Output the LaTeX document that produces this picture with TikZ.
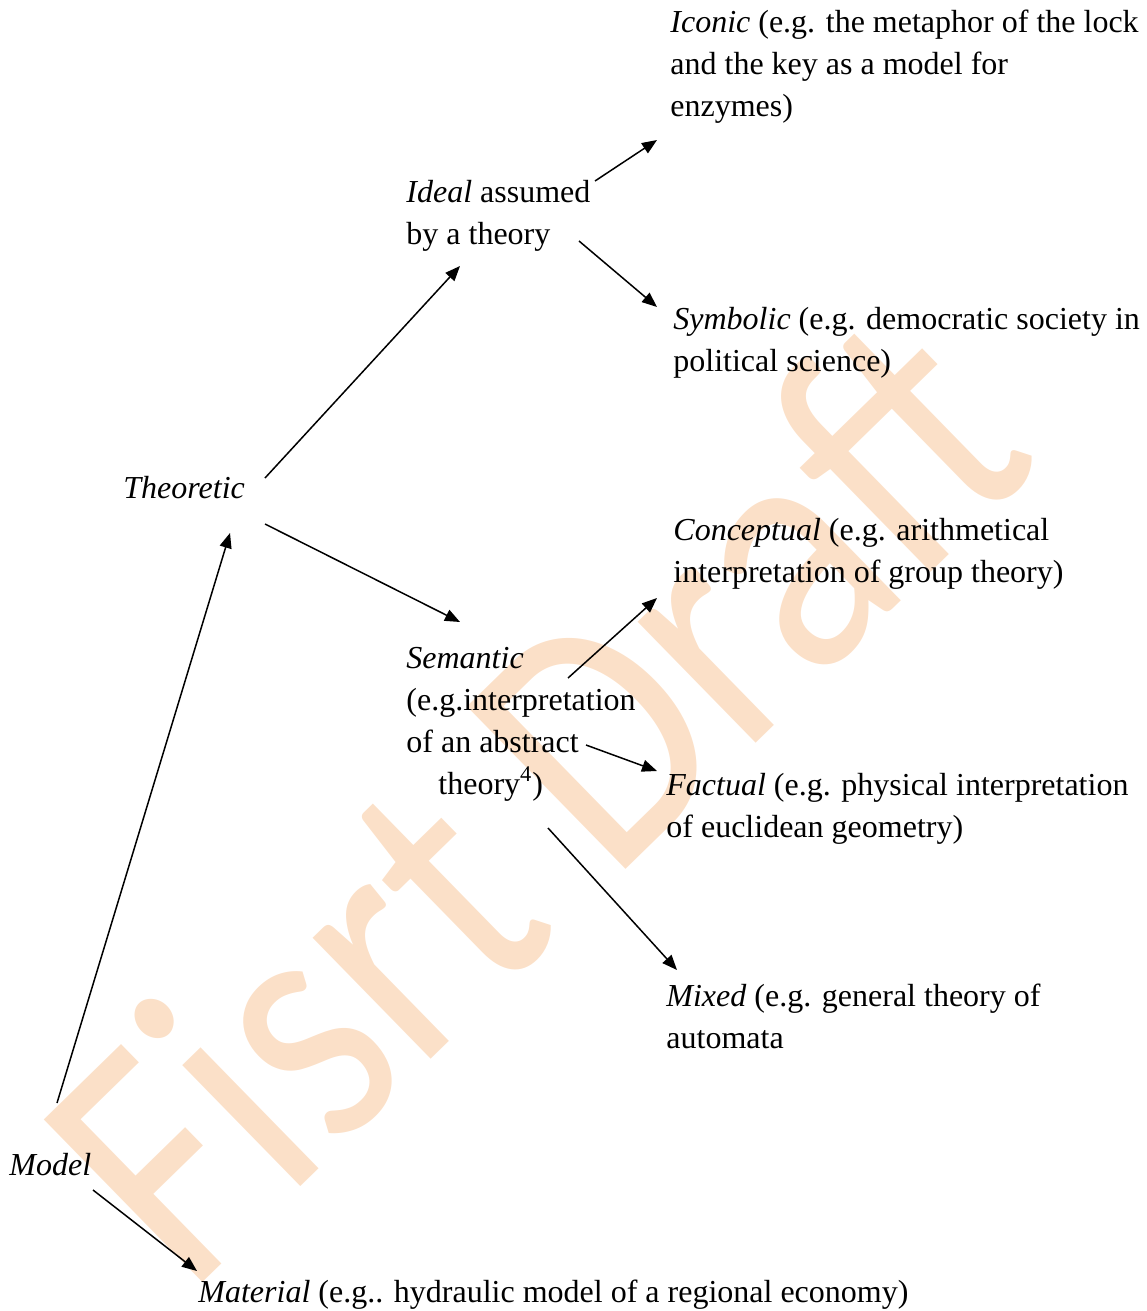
\documentclass[tikz,border=0pt]{standalone}
\usepackage{fontspec}
\setmainfont{Liberation Serif}
\newfontfamily\wmfont{Carlito}
\usetikzlibrary{arrows.meta}
\definecolor{wmorange}{RGB}{251, 224, 200}

\begin{document}
\begin{tikzpicture}[x=0.5pt, y=-0.5pt,
  lbl/.style={anchor=base west, inner sep=0pt, align=left, font=\fontsize{16}{21}\selectfont},
  arr/.style={-{Triangle[length=7.5pt, width=6pt]}, line width=0.75pt},
  watermark/.style={anchor=base west, inner sep=0pt, text=wmorange, transform shape, font=\wmfont\fontsize{177}{177}\selectfont}
]
  \useasboundingbox (0,0) rectangle (1146,1311);

  % watermark behind everything
  \begin{scope}[shift={(188,1297)}, rotate=44.3, xscale=0.84]
    \node[watermark] (wm) at (0,0) {Fisrt Draft};
  \end{scope}

  % labels (base = baseline of the last line)
  \node[lbl] (model) at (9,1175) {\textit{Model}};
  \node[lbl] (theoretic) at (123,498) {\textit{Theoretic}};
  \node[lbl] (material) at (198,1302) {\textit{Material} (e.g.. hydraulic model of a regional economy)};
  \node[lbl] (ideal) at (406,244) {\textit{Ideal} assumed\\by a theory};
  \node[lbl] (semantic) at (406,794) {\textit{Semantic}\\(e.g.interpretation\\of an abstract\\\hspace*{1em}theory\textsuperscript{4})};
  \node[lbl] (iconic) at (670,117) {\textit{Iconic} (e.g. the metaphor of the lock\\and the key as a model for\\enzymes)};
  \node[lbl] (symbolic) at (673,371) {\textit{Symbolic} (e.g. democratic society in\\political science)};
  \node[lbl] (conceptual) at (673,582) {\textit{Conceptual} (e.g. arithmetical\\interpretation of group theory)};
  \node[lbl] (factual) at (666,837) {\textit{Factual} (e.g. physical interpretation\\of euclidean geometry)};
  \node[lbl] (mixed) at (666,1048) {\textit{Mixed} (e.g. general theory of\\automata};

  % arrow ends
  \coordinate (m-up) at (57,1103);
  \coordinate (t-in) at (230,533);
  \coordinate (t-up) at (265,478);
  \coordinate (i-in) at (460,266);
  \coordinate (t-dn) at (265,524);
  \coordinate (s-in) at (460,622);
  \coordinate (i-up) at (595,181);
  \coordinate (ic-in) at (657,140);
  \coordinate (i-dn) at (579,241);
  \coordinate (sy-in) at (657,307);
  \coordinate (s-up) at (568,678);
  \coordinate (c-in) at (657,598);
  \coordinate (s-mid) at (586,745);
  \coordinate (f-in) at (657,771);
  \coordinate (s-dn) at (548,828);
  \coordinate (mx-in) at (677,970);
  \coordinate (m-dn) at (93,1190);
  \coordinate (ma-in) at (197,1271);

  \draw[arr] (m-up) -- (t-in);
  \draw[arr] (t-up) -- (i-in);
  \draw[arr] (t-dn) -- (s-in);
  \draw[arr] (i-up) -- (ic-in);
  \draw[arr] (i-dn) -- (sy-in);
  \draw[arr] (s-up) -- (c-in);
  \draw[arr] (s-mid) -- (f-in);
  \draw[arr] (s-dn) -- (mx-in);
  \draw[arr] (m-dn) -- (ma-in);
\end{tikzpicture}
\end{document}
